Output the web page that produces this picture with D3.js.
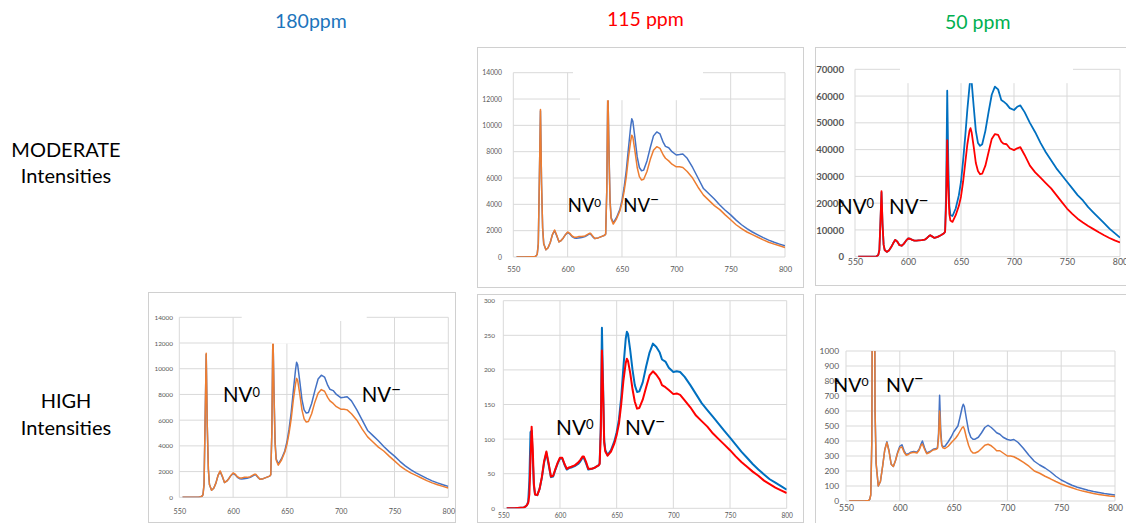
<!DOCTYPE html>
<html>
<head>
<meta charset="utf-8">
<script src="https://cdn.jsdelivr.net/npm/d3@7"></script>
<style>
  body { margin: 0; background: #fff; }
  svg { display: block; }
</style>
</head>
<body>
<svg id="fig" width="1126" height="523"></svg>
<script>
// ---- Spectral data (wavelength in nm, PL intensity in counts) ----
const wavelength = [
  553,560,568,570,571,572,573,574,575,576,
  577,578,580,582,584,586,588,590,592,594,
  596,598,600,602,604,606,608,610,613,616,
  618,620,621,623,625,628,631,634,635,636,
  637,638,639,640,642,645,648,650,652,654,
  656,658,659,660,662,664,666,668,670,673,
  676,679,682,685,688,690,693,696,700,703,
  706,710,715,720,725,730,735,740,745,750,
  755,760,765,770,775,780,785,790,795,800
];

// 180 ppm sample (same spectra shown in both panels that use it)
const ppm180Blue = [
  0,0,10,40,80,200,1000,6000,11100,5500,
  2200,1000,550,700,1100,1700,2000,1600,1150,1250,
  1450,1700,1850,1750,1550,1450,1430,1450,1480,1550,
  1650,1750,1750,1550,1400,1450,1550,1650,1750,5000,
  13000,8200,4400,3000,2600,3000,3600,4300,5300,6600,
  8300,9900,10500,10300,9000,7600,6800,6550,6600,7300,
  8300,9200,9500,9350,8700,8400,8300,8000,7750,7780,
  7820,7500,6800,6000,5200,4800,4400,3950,3550,3200,
  2800,2450,2150,1900,1680,1470,1280,1120,980,850
];
const ppm180Orange = [
  0,0,10,40,80,200,1000,6000,11200,5500,
  2200,1000,550,700,1100,1700,2050,1650,1150,1250,
  1450,1700,1900,1800,1600,1500,1500,1550,1550,1600,
  1700,1800,1800,1600,1400,1450,1550,1650,1750,5000,
  13000,8000,4200,2900,2500,2900,3500,4100,5000,6100,
  7600,8800,9250,9100,8000,6800,6100,5850,5900,6500,
  7400,8100,8380,8250,7750,7500,7300,7050,6850,6850,
  6800,6500,6000,5300,4700,4300,3900,3600,3200,2830,
  2450,2150,1900,1700,1500,1300,1120,980,850,720
];

// 50 ppm, moderate intensity
const ppm50ModBlue = [
  0,0,50,150,300,700,2500,13000,24000,12000,
  4500,2500,1800,2300,3500,5000,6300,5600,4300,4100,
  4800,5900,6800,6700,6300,6000,6000,6100,6200,6400,
  7000,7800,8000,7500,7000,7400,8000,8800,9300,25000,
  62000,35000,19000,15500,15200,18000,23000,28000,36000,45000,
  55000,63500,67000,65500,56000,47000,42500,41400,42000,47000,
  54000,60500,63500,62500,58500,58000,57000,55500,54800,56000,
  56500,54000,50000,46500,42500,39000,36000,33000,30500,28000,
  25500,23000,21000,18500,16500,14500,12500,10500,8800,7100
];
const ppm50ModRed = [
  0,0,50,150,300,700,2500,13000,24500,12000,
  4500,2500,1800,2300,3500,5000,6300,5600,4300,4100,
  4800,5900,6800,6700,6300,6000,6000,6100,6200,6400,
  7000,7800,8000,7500,7000,7400,8000,8800,9300,20000,
  43500,26000,16000,13500,13000,15500,19000,22500,28000,35000,
  42000,47000,48000,46500,41000,35000,32000,30800,31000,34000,
  39000,44000,45800,45500,43000,42200,42000,40500,39800,40500,
  40900,38000,34000,31500,29500,27500,25500,23000,20500,18000,
  16000,14200,12800,11500,10300,9100,8000,7000,6100,5300
];

// 115 ppm, high intensity
const ppm115HighBlue = [
  0,0,1,3,5,10,40,110,112,70,
  32,20,19,28,44,66,80,63,45,46,
  56,65,72,72,63,56,58,59,61,64,
  68,73,73,65,56,57,59,62,65,120,
  261,180,98,84,77,84,97,110,128,160,
  205,245,255,252,228,200,178,168,169,182,
  205,225,238,233,225,215,212,203,197,198,
  197,190,178,165,152,142,132,122,112,102,
  92,82,73,64,56,49,42,37,32,27
];
const ppm115HighRed = [
  0,0,1,3,5,8,20,70,118,85,
  35,20,19,28,45,68,82,65,46,47,
  57,66,73,73,64,57,59,60,62,66,
  70,75,75,67,57,57,59,62,64,110,
  228,170,95,82,76,82,94,106,122,150,
  185,210,216,213,195,172,154,144,145,157,
  175,192,198,193,186,178,175,171,165,166,
  164,156,146,134,126,118,108,100,92,84,
  75,67,60,53,47,40,35,30,26,22
];

// 50 ppm, high intensity
const ppm50HighBlue = [
  0,0,1,2,4,10,40,400,2400,2400,
  600,250,100,130,230,340,395,335,245,230,
  270,325,365,375,335,310,315,325,330,325,
  345,385,400,355,320,330,345,350,355,450,
  705,480,375,362,365,395,430,460,480,500,
  560,625,645,630,545,465,425,412,412,425,
  455,490,505,490,470,455,445,425,410,405,
  410,390,350,305,265,240,220,195,165,140,
  122,105,92,82,72,64,57,50,45,40
];
const ppm50HighOrange = [
  0,0,1,2,4,10,40,400,2500,2500,
  600,250,100,130,230,340,390,330,245,230,
  270,320,355,360,325,305,310,320,325,320,
  340,375,380,345,315,325,340,345,350,420,
  600,440,370,355,350,365,390,405,420,440,
  465,490,495,480,420,370,335,320,320,330,
  350,372,378,368,350,335,335,320,300,300,
  295,280,258,232,200,185,165,148,130,113,
  100,88,76,66,58,50,44,38,33,30
];

// ---- Axis tick values and labels ----
const xTicks = [550, 600, 650, 700, 750, 800];
const yTicks14k = [0, 2000, 4000, 6000, 8000, 10000, 12000, 14000];
const yTicks70k = [0, 10000, 20000, 30000, 40000, 50000, 60000, 70000];
const yTicks300 = [0, 50, 100, 150, 200, 250, 300];
const yTicks1000 = [0, 100, 200, 300, 400, 500, 600, 700, 800, 900, 1000];

const columnTitles = ["180ppm", "115 ppm", "50 ppm"];
const rowTitles = [["MODERATE", "Intensities"], ["HIGH", "Intensities"]];

// ---- Drawing ----
const FONT = "Lato, 'Open Sans', 'Liberation Sans', sans-serif";
const svg = d3.select("#fig");

const excelBlue = "#4472C4", excelOrange = "#ED7D31";
const brightBlue = "#0070C0", brightRed = "#FF0000";

const panels = [
  { // moderate / 115 ppm column
    box: [477, 47, 803, 287], plot: [513.3, 72.7, 785, 257], yTicks: yTicks14k,
    series: [[ppm180Blue, excelBlue], [ppm180Orange, excelOrange]], lw: 1.5,
    yfs: 6.8, xfs: 7.6, yBold: false, yLabelRight: 502, xLabelY: 272,
    nv: [567.7, 623.3, 211.7], nvSize: 18.5,
    covers: [[573, 68, 703, 77], [580, 68, 700, 100.2]]
  },
  { // moderate / 50 ppm column
    box: [815, 47, 1132, 285], plot: [855, 69.3, 1120, 256.7], yTicks: yTicks70k,
    series: [[ppm50ModBlue, brightBlue], [ppm50ModRed, brightRed]], lw: 1.8,
    yfs: 9.6, xfs: 8.8, yBold: true, yLabelRight: 844, xLabelY: 265,
    nv: [837, 889, 214], nvSize: 20.5,
    covers: [[900, 64, 1073, 83.2]]
  },
  { // high / 180 ppm column
    box: [148, 292, 455, 522], plot: [179.3, 317.3, 448.3, 497.3], yTicks: yTicks14k,
    series: [[ppm180Blue, excelBlue], [ppm180Orange, excelOrange]], lw: 1.5,
    yfs: 6.4, xfs: 7.2, yBold: false, yLabelRight: 173, xLabelY: 513.5,
    nv: [223, 361.7, 402.3], nvSize: 20.4,
    covers: [[241.7, 314, 366.7, 321], [271.6, 314, 320, 343.6]]
  },
  { // high / 115 ppm column
    box: [477, 294, 803, 522], plot: [503.3, 300.7, 786.7, 508.3], yTicks: yTicks300,
    series: [[ppm115HighBlue, brightBlue], [ppm115HighRed, brightRed]], lw: 2,
    yfs: 6.4, xfs: 6.6, yBold: false, yLabelRight: 495, xLabelY: 518,
    nv: [556, 625, 435], nvSize: 20.8,
    covers: []
  },
  { // high / 50 ppm column
    box: [815, 294, 1132, 530], plot: [846, 351, 1115, 501], yTicks: yTicks1000,
    series: [[ppm50HighBlue, excelBlue], [ppm50HighOrange, excelOrange]], lw: 1.5,
    yfs: 8.4, xfs: 8.6, yBold: false, yLabelRight: 839, xLabelY: 511,
    nv: [833.3, 886, 391.7], nvSize: 19.5,
    covers: []
  }
];

panels.forEach((p, i) => {
  const g = svg.append("g");
  const [bx0, by0, bx1, by1] = p.box;
  const [px0, py0, px1, py1] = p.plot;

  g.append("rect")
    .attr("x", bx0 + 0.5).attr("y", by0 + 0.5)
    .attr("width", bx1 - bx0).attr("height", by1 - by0)
    .attr("fill", "#fff").attr("stroke", "#D0D0D0").attr("stroke-width", 1);

  const x = d3.scaleLinear().domain([550, 800]).range([px0, px1]);
  const y = d3.scaleLinear().domain([0, d3.max(p.yTicks)]).range([py1, py0]);

  // gridlines
  const grid = g.append("g").attr("stroke", "#D9D9D9").attr("stroke-width", 1);
  grid.selectAll("line.h").data(p.yTicks).join("line")
    .attr("x1", px0).attr("x2", px1)
    .attr("y1", d => y(d)).attr("y2", d => y(d));
  grid.selectAll("line.v").data(xTicks).join("line")
    .attr("x1", d => x(d)).attr("x2", d => x(d))
    .attr("y1", py0).attr("y2", py1);

  // axes labels via d3 axes (lines hidden)
  const yAxis = g.append("g")
    .attr("transform", `translate(${p.yLabelRight},0)`)
    .call(d3.axisLeft(y).tickValues(p.yTicks).tickSize(0).tickPadding(0).tickFormat(d3.format("d")));
  yAxis.select(".domain").remove();
  yAxis.selectAll("text")
    .attr("font-family", FONT).attr("font-size", p.yfs)
    .attr("font-weight", p.yBold ? 700 : 400).attr("fill", "#595959");

  const xAxis = g.append("g")
    .attr("transform", `translate(0,${p.xLabelY})`)
    .call(d3.axisBottom(x).tickValues(xTicks).tickSize(0).tickPadding(0).tickFormat(d3.format("d")));
  xAxis.select(".domain").remove();
  xAxis.selectAll("text")
    .attr("font-family", FONT).attr("font-size", p.xfs).attr("fill", "#595959")
    .attr("dy", "0");

  // spectra, clipped to the plot area
  const clipId = "clip" + i;
  g.append("clipPath").attr("id", clipId).append("rect")
    .attr("x", px0).attr("y", py0).attr("width", px1 - px0).attr("height", py1 - py0);
  const line = d3.line().x((d, k) => x(wavelength[k])).y(d => y(d));
  const lines = g.append("g").attr("clip-path", `url(#${clipId})`);
  p.series.forEach(([vals, col]) => {
    lines.append("path").datum(vals)
      .attr("d", line).attr("fill", "none")
      .attr("stroke", col).attr("stroke-width", p.lw)
      .attr("stroke-linejoin", "round");
  });

  // blanked-out chart title area
  p.covers.forEach(([cx0, cy0, cx1, cy1]) => {
    g.append("rect").attr("x", cx0).attr("y", cy0)
      .attr("width", cx1 - cx0).attr("height", cy1 - cy0).attr("fill", "#fff");
  });

  // NV0 / NV- band annotations
  const fs = p.nvSize;
  const t0 = g.append("text").attr("x", p.nv[0]).attr("y", p.nv[2])
    .attr("font-family", FONT).attr("font-size", fs).attr("fill", "#000");
  t0.append("tspan").text("NV");
  t0.append("tspan").attr("font-size", fs * 0.63).attr("dy", -fs * 0.27).text("0");
  const t1 = g.append("text").attr("x", p.nv[1]).attr("y", p.nv[2])
    .attr("font-family", FONT).attr("font-size", fs).attr("fill", "#000");
  t1.append("tspan").text("NV");
  t1.append("tspan").attr("font-size", fs * 0.85).attr("dy", -fs * 0.38).text("\u2212");
});

// column headings
const titleColors = ["#1C75BC", "#FF0000", "#00B050"];
const titlePos = [[275, 28], [607, 26], [945, 29]];
svg.selectAll("text.col").data(columnTitles).join("text")
  .attr("class", "col")
  .attr("x", (d, i) => titlePos[i][0]).attr("y", (d, i) => titlePos[i][1])
  .attr("font-family", FONT).attr("font-size", 19.5)
  .attr("fill", (d, i) => titleColors[i])
  .text(d => d);

// row headings
const rowBaselines = [[156.7, 183], [408.3, 435]];
rowTitles.forEach((lines, r) => {
  lines.forEach((s, k) => {
    svg.append("text")
      .attr("x", 66).attr("y", rowBaselines[r][k])
      .attr("text-anchor", "middle")
      .attr("font-family", FONT).attr("font-size", 20)
      .attr("fill", "#000").text(s);
  });
});
</script>
</body>
</html>
